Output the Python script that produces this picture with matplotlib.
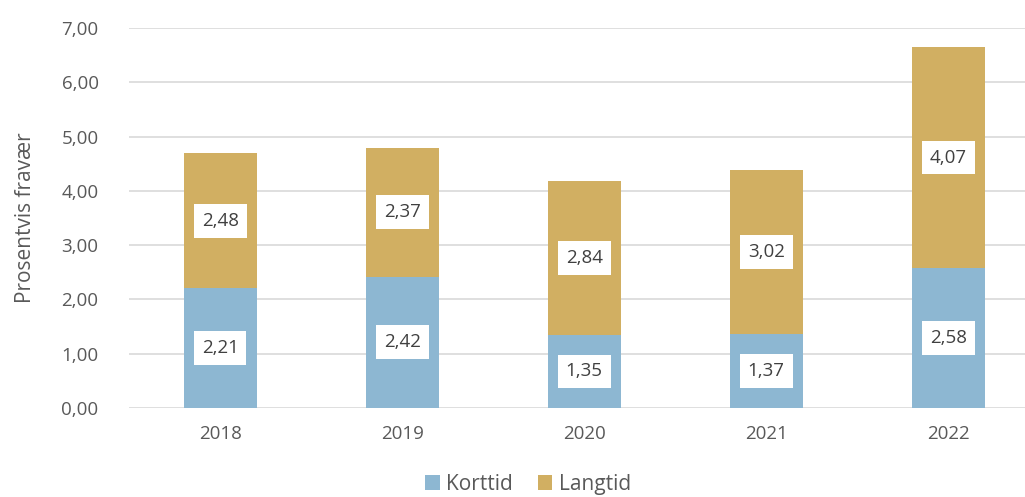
import matplotlib.pyplot as plt
import numpy as np

# Sykefravær, korttid vs langtid
years = ['2018', '2019', '2020', '2021', '2022']
korttid = [2.21, 2.42, 1.35, 1.37, 2.58]
langtid = [2.48, 2.37, 2.84, 3.02, 4.07]

plt.rcParams['font.family'] = ['Open Sans', 'DejaVu Sans']
grey = '#595959'

fig = plt.figure(figsize=(10.25, 4.97), dpi=100)
ax = fig.add_axes([0.126, 0.179, 0.888, 0.7646])

x = np.arange(len(years))
w = 0.40
b1 = ax.bar(x, korttid, w, color='#8DB7D2', label='Korttid', zorder=3)
b2 = ax.bar(x, langtid, w, bottom=korttid, color='#D1AF62', label='Langtid', zorder=3)

def fmt(v):
    return f'{v:.2f}'.replace('.', ',')

box = dict(boxstyle='square,pad=0.42', fc='white', ec='none')
for i in range(len(years)):
    ax.text(x[i], korttid[i] / 2, fmt(korttid[i]), ha='center', va='center',
            fontsize=13.5, color='#404040', bbox=box, zorder=4)
    ax.text(x[i], korttid[i] + langtid[i] / 2, fmt(langtid[i]), ha='center', va='center',
            fontsize=13.5, color='#404040', bbox=box, zorder=4)

ax.set_xlim(-0.5, 4.5)
ax.set_ylim(0, 7)
ax.set_yticks(np.arange(0, 8, 1))
ax.set_yticklabels([fmt(v) for v in np.arange(0, 8, 1)])
ax.set_xticks(x)
ax.set_xticklabels(years)
ax.tick_params(length=0, labelsize=13.5, colors=grey, pad=12)
ax.tick_params(axis='y', pad=22)
ax.grid(axis='y', color='#D9D9D9', lw=1.2, zorder=0)
for s in ax.spines.values():
    s.set_visible(False)

ax.set_ylabel('Prosentvis fravær', fontsize=15, color=grey, labelpad=18)

fig.legend(handles=[b1, b2], loc='center', bbox_to_anchor=(0.515, 0.026), ncol=2,
           frameon=False, fontsize=15, handlelength=0.7, handleheight=0.7,
           handletextpad=0.3, columnspacing=1.2, labelcolor=grey)

fig.savefig('out.png', dpi=100)
